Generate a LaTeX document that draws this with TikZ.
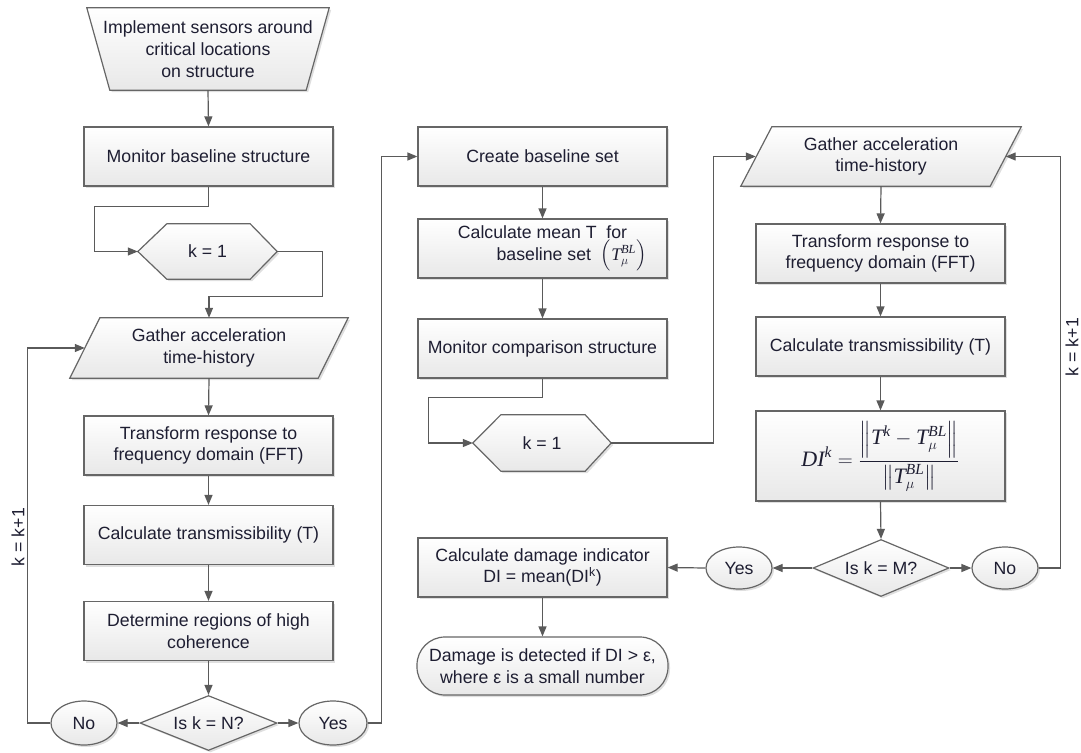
\documentclass[tikz,border=0pt]{standalone}
\usepackage{amsmath}
\usepackage{fontspec}
\setmainfont{Liberation Sans}
\newfontfamily\tms{Liberation Serif}
\usetikzlibrary{shapes.geometric,shadows,arrows.meta,calc}
\definecolor{lc}{HTML}{5A5A5A}
\definecolor{bc}{HTML}{666666}
\definecolor{tc}{HTML}{1E1E32}
\newcommand{\TI}[1]{\text{\tms\itshape #1}}
\pgfdeclarelayer{bg}
\pgfsetlayers{bg,main}
\tikzset{
 fl/.style={top color=white, bottom color=black!9},
 sh/.style={drop shadow={shadow xshift=2pt,shadow yshift=-2pt,opacity=0.25}},
 outl/.style={draw=bc, line width=1.2pt, fl, sh},
 txt/.style={font=\fontsize{17.7}{21.7}\selectfont, text=tc, align=center, inner sep=0pt},
 box/.style={txt, outl, rectangle, minimum width=249, minimum height=59},
 hexa/.style={txt, minimum width=139, minimum height=55},
 para/.style={txt, minimum height=60},
 dia/.style={txt, outl, diamond, aspect=2.5, minimum width=137, minimum height=55},
 ell/.style={txt, outl, ellipse, minimum width=66, minimum height=44},
 arr/.style={draw=lc, line width=1.2pt, -{Triangle[length=10pt,width=8pt]}},
 lbl/.style={font=\fontsize{17.7}{21.7}\selectfont, text=tc, inner sep=0pt, rotate=90},
}
\begin{document}
\begin{tikzpicture}[x=1pt,y=-1pt]
\useasboundingbox (0,0) rectangle (1081,752);
% ---------- left column
\node[txt, minimum width=242, minimum height=82] (trap) at (208,49) {Implement sensors around\\critical locations\\on structure};
\node[box] (mon1) at (208.5,156.5) {Monitor baseline structure};
\node[hexa] (hexL) at (207.5,251.5) {k = 1};
\node[para, minimum width=278] (parL) at (209,348) {Gather acceleration\\time-history};
\node[box] (fft1) at (208.5,445.5) {Transform response to\\frequency domain (FFT)};
\node[box] (tr1) at (208.5,535) {Calculate transmissibility (T)};
\node[box] (det1) at (208.5,631) {Determine regions of high\\coherence};
\node[dia] (diaL) at (208.5,723) {Is k = N?};
\node[ell] (noL) at (84,723) {No};
\node[ell, minimum width=68] (yesL) at (333,723) {Yes};
\node[lbl] (lk1) at (18,537) {k = k+1};
% ---------- middle column
\node[box] (cbs) at (542.5,156.5) {Create baseline set};
\node[box] (cmt) at (542.5,248.5) {Calculate mean T\ \ for\\\hspace*{58pt}baseline set\ \ $\Big(\TI{T}_{\mu}^{\TI{BL}}\Big)$};
\node[box] (mcs) at (542.5,348.5) {Monitor comparison structure};
\node[hexa, minimum width=138, minimum height=56] (hexM) at (542,443) {k = 1};
\node[box] (cdi) at (542.5,567.5) {Calculate damage indicator\\DI = mean(DI\textsuperscript{k})};
\node[txt, outl, rectangle, rounded corners=28pt, minimum width=251, minimum height=58] (term) at (542.5,666) {Damage is detected if DI > ε,\\where ε is a small number};
% ---------- right column
\node[para, minimum width=280, minimum height=59] (parR) at (881,156.5) {Gather acceleration\\time-history};
\node[box] (fft2) at (880.5,253.5) {Transform response to\\frequency domain (FFT)};
\node[box] (tr2) at (880.5,346.5) {Calculate transmissibility (T)};
\node[box, minimum height=90, font=\fontsize{22}{26}\selectfont] (di) at (880.5,456) {$\displaystyle \TI{DI}^{\TI{k}} = \frac{\left\|\TI{T}^{\TI{k}} - \TI{T}_{\mu}^{\TI{BL}}\right\|}{\left\|\TI{T}_{\mu}^{\TI{BL}}\right\|}$};
\node[dia, minimum width=136, minimum height=57] (diaR) at (881,568) {Is k = M?};
\node[ell, minimum height=42] (yesR) at (739,568) {Yes};
\node[ell, minimum height=42] (noR) at (1005,568) {No};
\node[lbl] (lk2) at (1072,347) {k = k+1};
% ---------- custom outlines
\begin{pgfonlayer}{bg}
\path[outl] (trap.north west) -- (trap.north east) -- ([xshift=-23]trap.south east) -- ([xshift=23]trap.south west) -- cycle;
\path[outl] (hexL.west) -- ([xshift=29]hexL.north west) -- ([xshift=-27]hexL.north east) -- (hexL.east) -- ([xshift=-27]hexL.south east) -- ([xshift=29]hexL.south west) -- cycle;
\path[outl] (hexM.west) -- ([xshift=28]hexM.north west) -- ([xshift=-26]hexM.north east) -- (hexM.east) -- ([xshift=-26]hexM.south east) -- ([xshift=28]hexM.south west) -- cycle;
\path[outl] ([xshift=30]parL.north west) -- (parL.north east) -- ([xshift=-30]parL.south east) -- (parL.south west) -- cycle;
\path[outl] ([xshift=31]parR.north west) -- (parR.north east) -- ([xshift=-31]parR.south east) -- (parR.south west) -- cycle;
\end{pgfonlayer}
% ---------- connectors
\draw[arr] (trap.south) -- (mon1.north);
\draw[arr] (mon1.south) -- ++(0,20) -| ($(hexL.west)+(-43,0)$) -- (hexL.west);
\draw[arr] (hexL.east) -- ++(45,0) |- ($(parL.north)+(0,-21)$) -- (parL.north);
\draw[arr] (parL.south) -- (fft1.north);
\draw[arr] (fft1.south) -- (tr1.north);
\draw[arr] (tr1.south) -- (det1.north);
\draw[arr] (det1.south) -- (diaL.north);
\draw[arr] (diaL.west) -- (noL.east);
\draw[arr] (diaL.east) -- (yesL.west);
\draw[arr] (noL.west) -- ++(-23,0) |- ([xshift=15]parL.west);
\draw[arr] (yesL.east) -- ++(14,0) |- (cbs.west);
\draw[arr] (cbs.south) -- (cmt.north);
\draw[arr] (cmt.south) -- (mcs.north);
\draw[arr] (mcs.south) -- ++(0,19) -| ($(hexM.west)+(-44,0)$) -- (hexM.west);
\draw[arr] (hexM.east) -- ++(102,0) |- ([xshift=15]parR.west);
\draw[arr] (parR.south) -- (fft2.north);
\draw[arr] (fft2.south) -- (tr2.north);
\draw[arr] (tr2.south) -- (di.north);
\draw[arr] (di.south) -- (diaR.north);
\draw[arr] (diaR.west) -- (yesR.east);
\draw[arr] (diaR.east) -- (noR.west);
\draw[arr] (noR.east) -- ++(22,0) |- ([xshift=-15.5]parR.east);
\draw[arr] (yesR.west) -- (cdi.east);
\draw[arr] (cdi.south) -- (term.north);
\end{tikzpicture}
\end{document}
